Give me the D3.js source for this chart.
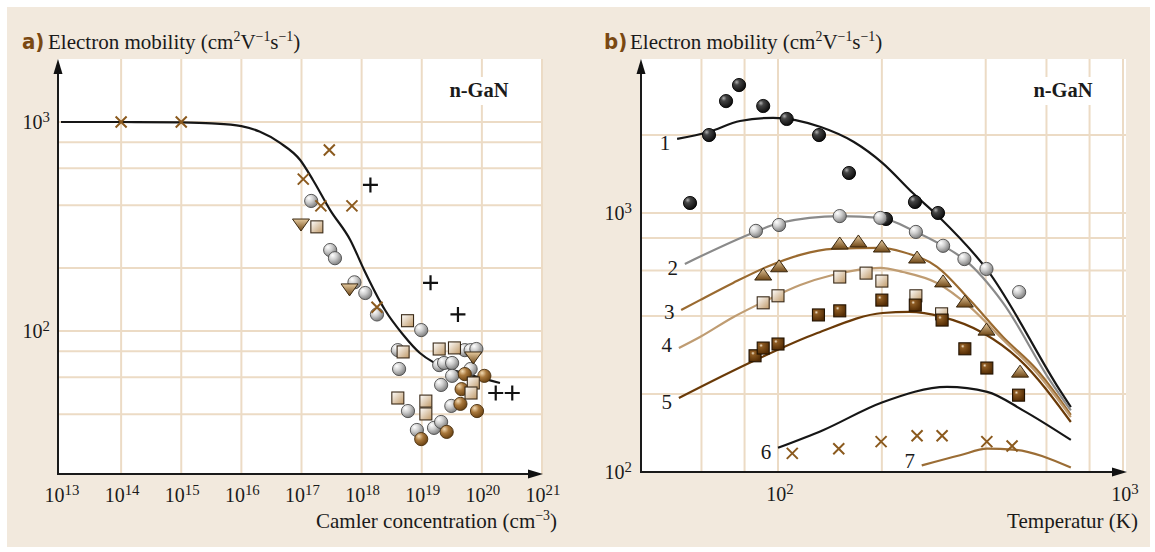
<!DOCTYPE html>
<html>
<head>
<meta charset="utf-8">
<script src="https://cdn.jsdelivr.net/npm/d3@7"></script>
<style>
  body { margin: 0; background: #fff; }
  svg { display: block; }
  text { font-family: "Liberation Serif", "DejaVu Serif", serif; fill: #1a1a1a; }
</style>
</head>
<body>
<div id="chart"></div>
<script>
// ---------- panel a: mobility vs carrier concentration ----------
const aCurveN  = [1e13, 1e14, 1e15, 3.2e15, 1e16, 2e16, 4.4e16, 9.5e16, 1.55e17, 3.0e17, 6.5e17, 1.1e18, 2.1e18, 2.45e18, 4.9e18, 9.3e18, 1.55e19, 3.3e19, 6.5e19, 2.0e20]
const aCurveMu = [1000, 1000, 995, 985, 955, 900, 794, 658, 528, 379, 272, 196, 136, 126, 96, 78.5, 71, 65, 61.5, 56.4]

const aCrossN  = [1e14, 1e15, 2.9e17, 1.07e17, 2.1e17, 6.9e17, 1.8e18]
const aCrossMu = [1000, 1000, 735, 533, 397, 397, 130]
const aPlusN   = [1.4e18, 1.4e19, 4.0e19, 1.7e20, 3.2e20]
const aPlusMu  = [500, 170, 120, 50.5, 50.5]
const aGrayN   = [1.45e17, 3.0e17, 3.6e17, 7.6e17, 1.15e18, 1.8e18, 9.8e18, 4.0e18, 4.2e18, 5.2e19, 6.5e19, 8.1e19,
                  1.95e19, 2.35e19, 3.2e19, 6.5e19, 3.2e19, 2.1e19, 5.9e18, 3.1e19, 8.3e18, 1.6e19, 2.1e19]
const aGrayMu  = [419, 244, 223, 171, 152, 120, 101, 81, 65.8, 81, 81, 82,
                  68.7, 70.3, 70.3, 65.8, 61, 55.2, 41.4, 43.8, 33.6, 34.4, 36.7]
const aBrownN  = [5.2e19, 1.1e20, 4.6e19, 4.4e19, 8.3e19, 9.8e18, 2.6e19]
const aBrownMu = [62.2, 61, 52.7, 44.8, 41.4, 30.4, 32.9]
const aSquareN  = [1.8e17, 5.8e18, 4.9e18, 1.95e19, 3.5e19, 7.2e19, 6.6e19, 4.0e18, 1.17e19, 1.17e19]
const aSquareMu = [315, 112, 79.4, 82, 83, 56.4, 50.5, 47.8, 46.2, 40.1]
const aTriN  = [9.8e16, 6.3e17, 7.2e19]
const aTriMu = [325, 159, 75.1]

const aTicksX = [13, 14, 15, 16, 17, 18, 19, 20, 21]
const aGridMu = [40, 60, 80, 100, 200, 400, 600, 800, 1000]

// ---------- panel b: mobility vs temperature ----------
const bCurveT = [
  [51, 63, 77.6, 96.8, 133, 166, 201, 246, 293, 404, 656, 706],
  [53.7, 85.8, 100.7, 151, 198, 251, 301, 348, 449, 614, 706],
  [52.4, 59.4, 74.1, 93, 116, 144, 198, 230, 289, 360, 449, 563, 706],
  [51.6, 59.4, 74.1, 93, 116, 144, 198, 230, 289, 360, 449, 563, 706],
  [51.6, 85.8, 130, 201, 240, 299, 393, 502, 706],
  [100, 135, 201, 309, 404, 513, 706],
  [261, 337, 404, 480, 706]
]
const bCurveMu = [
  [1932, 2055, 2265, 2330, 2148, 1880, 1559, 1194, 965, 603, 207, 178],
  [636, 845, 915, 973, 957, 845, 747, 659, 450, 226, 173],
  [422, 461, 537, 620, 689, 727, 733, 707, 620, 461, 332, 248, 166],
  [301, 332, 396, 461, 527, 576, 614, 592, 537, 434, 324, 241, 163],
  [193, 270, 344, 411, 415, 397, 344, 271, 156],
  [124, 145, 186, 213, 204, 173, 133],
  [106, 116, 123, 122, 104]
]
const bCurveNames  = ["1", "2", "3", "4", "5", "6", "7"]
const bCurveColors = ["#161616", "#8a8a8a", "#9a6a30", "#bf9c72", "#6a3a08", "#161616", "#9b6d35"]

const bBlackT  = [55.6, 63.1, 70.7, 77.1, 90.6, 106, 131.5, 160.6, 205.6, 249.5, 291]
const bBlackMu = [1093, 2000, 2704, 3119, 2589, 2307, 2000, 1427, 948, 1103, 1000]
const bGrayT  = [86.3, 100.7, 151, 198, 251, 301, 347, 402, 500]
const bGrayMu = [853, 899, 973, 957, 845, 747, 664, 608, 495]
const bTriT  = [90.6, 100.7, 151, 171, 200, 253, 301, 348, 402, 503]
const bTriMu = [576, 620, 759, 773, 739, 670, 542, 453, 353, 243]
const bLightT  = [90.6, 100, 151, 180, 200, 251, 298]
const bLightMu = [450, 479, 566, 586, 546, 479, 408]
const bDarkT  = [85.8, 90.6, 100, 131, 151, 200, 250, 299, 348, 403, 498]
const bDarkMu = [281, 301, 312, 404, 419, 461, 441, 386, 299, 252, 198]
const bCrossT  = [110, 150, 199, 253, 299, 403, 477]
const bCrossMu = [118, 123, 131, 138, 138, 131, 126]

const bGridT  = [60, 80, 100, 200, 400, 600, 800, 1000]
const bGridMu = [200, 400, 600, 800, 1000, 2000]
const bTicksX = [2, 3]

// ---------- setup ----------
const W = 1155, H = 552
const svg = d3.select("#chart").append("svg").attr("width", W).attr("height", H)

const defs = svg.append("defs")
function radial(id, stops) {
  const g = defs.append("radialGradient").attr("id", id)
    .attr("cx", "35%").attr("cy", "32%").attr("r", "70%").attr("fx", "32%").attr("fy", "28%")
  stops.forEach(s => g.append("stop").attr("offset", s[0]).attr("stop-color", s[1]))
}
function linear(id, x2, y2, stops) {
  const g = defs.append("linearGradient").attr("id", id)
    .attr("x1", 0).attr("y1", 0).attr("x2", x2).attr("y2", y2)
  stops.forEach(s => g.append("stop").attr("offset", s[0]).attr("stop-color", s[1]))
}
radial("gGray", [[0, "#ffffff"], [0.45, "#cfcfcf"], [1, "#7e7e7e"]])
radial("gBlack", [[0, "#b0b0b0"], [0.3, "#444"], [1, "#0c0c0c"]])
radial("gBrown", [[0, "#f3dbb4"], [0.45, "#a9783c"], [1, "#6a4212"]])
radial("gDark", [[0, "#f6e7cf"], [0.22, "#8c5a22"], [1, "#532c04"]])
linear("gLight", 1, 1, [[0, "#ffffff"], [1, "#bf9866"]])
linear("gTri", 0, 1, [[0, "#e6cba0"], [1, "#6f4716"]])

svg.append("rect").attr("x", 7).attr("y", 7).attr("width", 1143).attr("height", 540).attr("fill", "#f2e9dd")

const gridColor = "#ecdbc5"

// text with superscripts: parts = [[text, isSup, comesAfterSup], ...]
function richText(g, x, y, parts, size, anchor, supScale) {
  const k = supScale || 0.66
  const t = g.append("text").attr("x", x).attr("y", y)
    .attr("font-size", size).attr("text-anchor", anchor || "start")
  parts.forEach(p => {
    const s = t.append("tspan").text(p[0])
    if (p[1]) s.attr("font-size", size * k).attr("dy", -size * 0.36)
    else if (p[2]) s.attr("dy", size * 0.36)
  })
  return t
}
// power-of-ten label
function pow10(g, x, y, e, anchor) {
  return richText(g, x, y, [["10"], [String(e), true]], 20, anchor, 0.74)
}

function arrowAxes(g, left, right, top, bottom) {
  g.append("line").attr("x1", left).attr("x2", left).attr("y1", bottom + 1).attr("y2", top + 10)
    .attr("stroke", "#1a1a1a").attr("stroke-width", 2)
  g.append("line").attr("x1", left - 1).attr("x2", right - 10).attr("y1", bottom).attr("y2", bottom)
    .attr("stroke", "#1a1a1a").attr("stroke-width", 2)
  g.append("path").attr("d", `M${left},${top} L${left + 4.5},${top + 15} L${left - 4.5},${top + 15} Z`).attr("fill", "#111")
  g.append("path").attr("d", `M${right + 1},${bottom} L${right - 14},${bottom - 4.5} L${right - 14},${bottom + 4.5} Z`).attr("fill", "#111")
}

function markerCircle(g, xs, ys, grad, stroke) {
  g.selectAll(null).data(xs.map((d, i) => [d, ys[i]])).enter().append("circle")
    .attr("cx", d => d[0]).attr("cy", d => d[1]).attr("r", 6.6)
    .attr("fill", `url(#${grad})`).attr("stroke", stroke).attr("stroke-width", 0.9)
}
function markerSquare(g, xs, ys, grad, stroke) {
  g.selectAll(null).data(xs.map((d, i) => [d, ys[i]])).enter().append("rect")
    .attr("x", d => d[0] - 6).attr("y", d => d[1] - 6).attr("width", 12).attr("height", 12)
    .attr("fill", `url(#${grad})`).attr("stroke", stroke).attr("stroke-width", 1.1)
}
function markerTri(g, xs, ys, down) {
  const s = down ? -1 : 1
  g.selectAll(null).data(xs.map((d, i) => [d, ys[i]])).enter().append("path")
    .attr("d", d => `M${d[0]},${d[1] - 7 * s} L${d[0] + 8.5},${d[1] + 5 * s} L${d[0] - 8.5},${d[1] + 5 * s} Z`)
    .attr("fill", "url(#gTri)").attr("stroke", "#3a2810").attr("stroke-width", 1)
}
function markerCross(g, xs, ys, color) {
  g.selectAll(null).data(xs.map((d, i) => [d, ys[i]])).enter().append("path")
    .attr("d", d => `M${d[0] - 5.5},${d[1] - 5.5}L${d[0] + 5.5},${d[1] + 5.5}M${d[0] - 5.5},${d[1] + 5.5}L${d[0] + 5.5},${d[1] - 5.5}`)
    .attr("stroke", color).attr("stroke-width", 2).attr("fill", "none")
}
function markerPlus(g, xs, ys) {
  g.selectAll(null).data(xs.map((d, i) => [d, ys[i]])).enter().append("path")
    .attr("d", d => `M${d[0] - 7.5},${d[1]}H${d[0] + 7.5}M${d[0]},${d[1] - 7.5}V${d[1] + 7.5}`)
    .attr("stroke", "#111").attr("stroke-width", 2.2).attr("fill", "none")
}
function ngan(g, x, y) {
  g.append("rect").attr("x", x - 37).attr("y", y - 20).attr("width", 74).attr("height", 28).attr("fill", "#fff")
  g.append("text").attr("x", x).attr("y", y).attr("text-anchor", "middle")
    .attr("font-size", 20.5).attr("font-weight", "bold").text("n-GaN")
}
function panelTitle(g, x, letter) {
  g.append("text").attr("x", x).attr("y", 49)
    .style("font-family", "'Liberation Sans Narrow', 'DejaVu Sans Condensed', sans-serif")
    .style("fill", "#7a4812").attr("font-size", 22).attr("font-weight", "bold").text(letter + ")")
  richText(g, x + 26, 49, [["Electron mobility (cm"], ["2", true], ["V", false, true], ["−1", true], ["s", false, true], ["−1", true], [")", false, true]], 21)
}

// ---------- panel a ----------
const A = { left: 58, right: 542, top: 59, bottom: 474 }
const xA = d3.scaleLog().domain([1e13, 1e21]).range([61, 542])
const yA = d3.scaleLog().domain([100, 1000]).range([331, 122])
const ga = svg.append("g")

ga.append("rect").attr("x", A.left).attr("y", A.top).attr("width", A.right - A.left).attr("height", A.bottom - A.top).attr("fill", "#fff")
ga.selectAll(null).data(aTicksX.slice(1)).enter().append("line")
  .attr("x1", d => xA(Math.pow(10, d))).attr("x2", d => xA(Math.pow(10, d)))
  .attr("y1", A.top).attr("y2", A.bottom).attr("stroke", gridColor).attr("stroke-width", 2)
ga.selectAll(null).data(aGridMu).enter().append("line")
  .attr("x1", A.left).attr("x2", A.right).attr("y1", d => yA(d)).attr("y2", d => yA(d))
  .attr("stroke", gridColor).attr("stroke-width", 2)
ngan(ga, 479, 97)

const lineA = d3.line().x(d => xA(d[0])).y(d => yA(d[1])).curve(d3.curveMonotoneX)
ga.append("path").datum(aCurveN.map((n, i) => [n, aCurveMu[i]])).attr("d", lineA)
  .attr("fill", "none").attr("stroke", "#161616").attr("stroke-width", 2.2)

markerCircle(ga, aGrayN.map(xA), aGrayMu.map(yA), "gGray", "#4a4a4a")
markerCircle(ga, aBrownN.map(xA), aBrownMu.map(yA), "gBrown", "#4a3010")
markerSquare(ga, aSquareN.map(xA), aSquareMu.map(yA), "gLight", "#3a2a18")
markerTri(ga, aTriN.map(xA), aTriMu.map(yA), true)
markerCross(ga, aCrossN.map(xA), aCrossMu.map(yA), "#8b5a1e")
markerPlus(ga, aPlusN.map(xA), aPlusMu.map(yA))

arrowAxes(ga, A.left, A.right, A.top, A.bottom)
aTicksX.forEach(e => pow10(ga, xA(Math.pow(10, e)) + 1, 502, e, "middle"))
;[2, 3].forEach(e => pow10(ga, 50, yA(Math.pow(10, e)) + 7, e, "end"))
richText(ga, 557, 528, [["Camler concentration (cm"], ["−3", true], [")", false, true]], 21, "end")
panelTitle(ga, 22, "a")

// ---------- panel b ----------
const B = { left: 641, right: 1126, top: 59, bottom: 472 }
const xB = d3.scaleLog().domain([100, 1000]).range([778, 1123])
const yB = d3.scaleLog().domain([100, 1000]).range([472, 213])
const gb = svg.append("g")

gb.append("rect").attr("x", B.left).attr("y", B.top).attr("width", B.right - B.left).attr("height", B.bottom - B.top).attr("fill", "#fff")
gb.selectAll(null).data(bGridT).enter().append("line")
  .attr("x1", d => xB(d)).attr("x2", d => xB(d)).attr("y1", B.top).attr("y2", B.bottom)
  .attr("stroke", gridColor).attr("stroke-width", 2)
gb.selectAll(null).data(bGridMu).enter().append("line")
  .attr("x1", B.left).attr("x2", B.right).attr("y1", d => yB(d)).attr("y2", d => yB(d))
  .attr("stroke", gridColor).attr("stroke-width", 2)
ngan(gb, 1063, 97)

const lineB = d3.line().x(d => xB(d[0])).y(d => yB(d[1])).curve(d3.curveMonotoneX)
const labelDy = [4, 4, 2, -3, 4, 4, -5]
bCurveT.forEach((ts, k) => {
  const pts = ts.map((t, i) => [t, bCurveMu[k][i]])
  gb.append("path").datum(pts).attr("d", lineB)
    .attr("fill", "none").attr("stroke", bCurveColors[k]).attr("stroke-width", 2.2)
  gb.append("text").attr("x", xB(pts[0][0]) - 12).attr("y", yB(pts[0][1]) + labelDy[k])
    .attr("dy", "0.35em").attr("text-anchor", "middle").attr("font-size", 21).text(bCurveNames[k])
})

markerCircle(gb, bBlackT.map(xB), bBlackMu.map(yB), "gBlack", "#000")
markerCircle(gb, bGrayT.map(xB), bGrayMu.map(yB), "gGray", "#4a4a4a")
markerTri(gb, bTriT.map(xB), bTriMu.map(yB), false)
markerSquare(gb, bLightT.map(xB), bLightMu.map(yB), "gLight", "#3a2a18")
markerSquare(gb, bDarkT.map(xB), bDarkMu.map(yB), "gDark", "#221200")
markerCross(gb, bCrossT.map(xB), bCrossMu.map(yB), "#8b5a1e")

arrowAxes(gb, B.left, B.right, B.top, B.bottom)
bTicksX.forEach(e => pow10(gb, xB(Math.pow(10, e)) + 2, 501, e, "middle"))
;[2, 3].forEach(e => pow10(gb, 632, yB(Math.pow(10, e)) + 7, e, "end"))
gb.append("text").attr("x", 1138).attr("y", 528).attr("text-anchor", "end").attr("font-size", 21).text("Temperatur (K)")
panelTitle(gb, 604, "b")
</script>
</body>
</html>
